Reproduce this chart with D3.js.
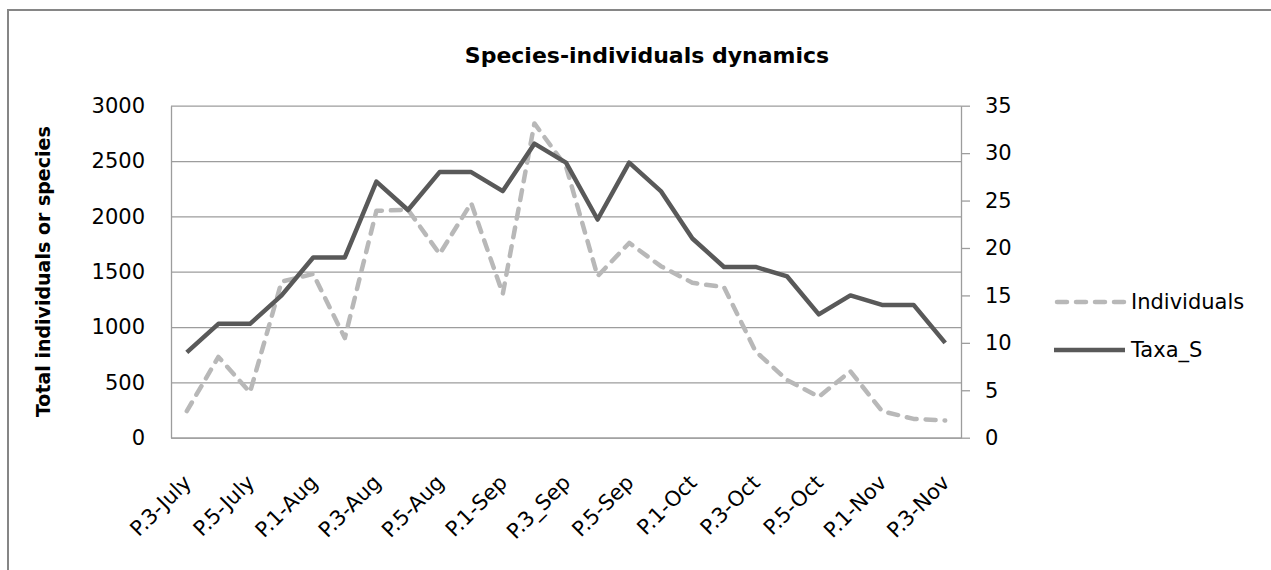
<!DOCTYPE html>
<html>
<head>
<meta charset="utf-8">
<script src="https://cdn.jsdelivr.net/npm/d3@7"></script>
<style>
  body { margin: 0; background: #fff; }
  svg text { font-family: "DejaVu Sans", sans-serif; fill: #000; }
</style>
</head>
<body>
<svg id="chart" width="1271" height="570"></svg>
<script>
// pentads from P.3-July to P.3-Nov
const categories = [
  "P.3-July", "P.4-July", "P.5-July", "P.6-July",
  "P.1-Aug", "P.2-Aug", "P.3-Aug", "P.4-Aug", "P.5-Aug", "P.6-Aug",
  "P.1-Sep", "P.2-Sep", "P.3_Sep", "P.4-Sep", "P.5-Sep", "P.6-Sep",
  "P.1-Oct", "P.2-Oct", "P.3-Oct", "P.4-Oct", "P.5-Oct", "P.6-Oct",
  "P.1-Nov", "P.2-Nov", "P.3-Nov"
];
const shownLabels = [
  "P.3-July", "P.5-July", "P.1-Aug", "P.3-Aug", "P.5-Aug", "P.1-Sep", "P.3_Sep",
  "P.5-Sep", "P.1-Oct", "P.3-Oct", "P.5-Oct", "P.1-Nov", "P.3-Nov"
];
const individuals = [
  240, 730, 410, 1410, 1480, 900, 2050, 2060, 1660, 2120, 1300, 2840, 2450,
  1460, 1760, 1550, 1400, 1360, 780, 520, 370, 600, 240, 170, 155
];
const taxaS = [
  9, 12, 12, 15, 19, 19, 27, 24, 28, 28, 26, 31, 29,
  23, 29, 26, 21, 18, 18, 17, 13, 15, 14, 14, 10
];
const leftTicks = [0, 500, 1000, 1500, 2000, 2500, 3000];
const rightTicks = [0, 5, 10, 15, 20, 25, 30, 35];

const plotLeft = 171, plotRight = 961, plotTop = 105.7, plotBottom = 437.7;
const gridColor = "#9d9d9d";

const svg = d3.select("#chart");

// chart area frame (runs off the right and bottom edge)
svg.append("rect")
  .attr("x", 8).attr("y", 10)
  .attr("width", 1300).attr("height", 600)
  .attr("fill", "none")
  .attr("stroke", "#868686")
  .attr("stroke-width", 2);

const x = d3.scalePoint().domain(categories).range([plotLeft, plotRight]).padding(0.5);
const yLeft = d3.scaleLinear().domain([0, 3000]).range([plotBottom, plotTop]);
const yRight = d3.scaleLinear().domain([0, 35]).range([plotBottom, plotTop]);

// gridlines
svg.append("g")
  .attr("transform", `translate(${plotLeft},0)`)
  .call(d3.axisLeft(yLeft).tickValues(leftTicks).tickSize(-(plotRight - plotLeft)).tickFormat(""))
  .call(g => g.select(".domain").remove())
  .call(g => g.selectAll("line").attr("stroke", gridColor).attr("stroke-width", 1.3));

// left axis
svg.append("g")
  .attr("transform", `translate(${plotLeft},0)`)
  .attr("color", gridColor)
  .call(d3.axisLeft(yLeft).tickValues(leftTicks).tickSize(0).tickPadding(26).tickFormat(d3.format("d")))
  .call(g => g.select(".domain").attr("stroke-width", 1.3))
  .call(g => g.selectAll("text")
    .attr("font-family", "DejaVu Sans").attr("font-size", 21).attr("fill", "#000"));

// right axis
svg.append("g")
  .attr("transform", `translate(${plotRight},0)`)
  .attr("color", gridColor)
  .call(d3.axisRight(yRight).tickValues(rightTicks).tickSize(9).tickSizeOuter(0).tickPadding(15))
  .call(g => g.selectAll(".domain, line").attr("stroke-width", 1.3))
  .call(g => g.selectAll("text")
    .attr("font-family", "DejaVu Sans").attr("font-size", 21).attr("fill", "#000"));

// bottom axis, rotated labels
svg.append("g")
  .attr("transform", `translate(0,${plotBottom})`)
  .attr("color", gridColor)
  .call(d3.axisBottom(x).tickValues(shownLabels).tickSize(0).tickSizeOuter(0))
  .call(g => g.select(".domain").attr("stroke-width", 1.3))
  .call(g => g.selectAll("text")
    .attr("font-family", "DejaVu Sans").attr("font-size", 21).attr("fill", "#000")
    .attr("text-anchor", "end")
    .attr("dy", "0.35em")
    .attr("y", 0)
    .attr("transform", "translate(0,41) rotate(-45)"));

// lines
const lineLeft = d3.line()
  .x((d, i) => x(categories[i]))
  .y(d => yLeft(d));
const lineRight = d3.line()
  .x((d, i) => x(categories[i]))
  .y(d => yRight(d));

svg.append("path")
  .datum(individuals)
  .attr("d", lineLeft)
  .attr("fill", "none")
  .attr("stroke", "#b8b8b8")
  .attr("stroke-width", 4.5)
  .attr("stroke-dasharray", "10,9")
  .attr("stroke-linecap", "round")
  .attr("stroke-linejoin", "round");

svg.append("path")
  .datum(taxaS)
  .attr("d", lineRight)
  .attr("fill", "none")
  .attr("stroke", "#595959")
  .attr("stroke-width", 4.5)
  .attr("stroke-linejoin", "round");

// title
svg.append("text")
  .attr("x", 647).attr("y", 63)
  .attr("text-anchor", "middle")
  .attr("font-size", 22)
  .attr("font-weight", "bold")
  .text("Species-individuals dynamics");

// y axis title
svg.append("text")
  .attr("transform", `translate(50,${(plotTop + plotBottom) / 2}) rotate(-90)`)
  .attr("text-anchor", "middle")
  .attr("font-size", 19)
  .attr("font-weight", "bold")
  .text("Total individuals or species");

// legend
const legend = [
  { name: "Individuals", color: "#b8b8b8", dash: "10,9", cap: "round", y: 302 },
  { name: "Taxa_S", color: "#595959", dash: null, cap: "butt", y: 350 }
];
const lg = svg.append("g").selectAll("g").data(legend).enter().append("g");
lg.append("line")
  .attr("x1", d => d.dash ? 1057 : 1054).attr("x2", 1125)
  .attr("y1", d => d.y).attr("y2", d => d.y)
  .attr("stroke", d => d.color)
  .attr("stroke-width", 4.5)
  .attr("stroke-dasharray", d => d.dash)
  .attr("stroke-linecap", d => d.cap);
lg.append("text")
  .attr("x", 1131).attr("y", d => d.y)
  .attr("dy", "0.35em")
  .attr("font-size", 21)
  .text(d => d.name);
</script>
</body>
</html>
